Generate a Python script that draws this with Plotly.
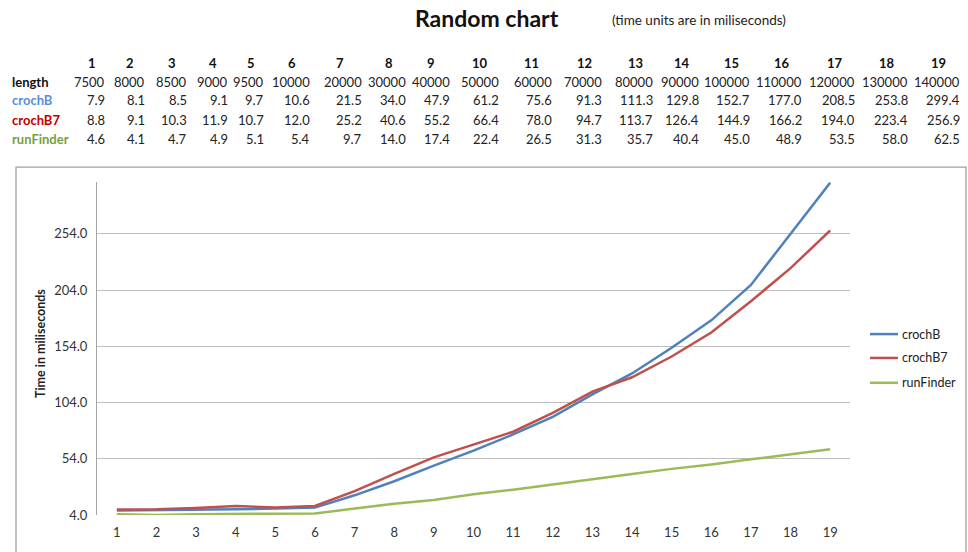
import plotly.graph_objects as go

categories = list(range(1, 20))
lengths = [7500, 8000, 8500, 9000, 9500, 10000, 20000, 30000, 40000, 50000,
           60000, 70000, 80000, 90000, 100000, 110000, 120000, 130000, 140000]
crochB = [7.9, 8.1, 8.5, 9.1, 9.7, 10.6, 21.5, 34.0, 47.9, 61.2,
          75.6, 91.3, 111.3, 129.8, 152.7, 177.0, 208.5, 253.8, 299.4]
crochB7 = [8.8, 9.1, 10.3, 11.9, 10.7, 12.0, 25.2, 40.6, 55.2, 66.4,
           78.0, 94.7, 113.7, 126.4, 144.9, 166.2, 194.0, 223.4, 256.9]
runFinder = [4.6, 4.1, 4.7, 4.9, 5.1, 5.4, 9.7, 14.0, 17.4, 22.4,
             26.5, 31.3, 35.7, 40.4, 45.0, 48.9, 53.5, 58.0, 62.5]
y_ticks = [4.0, 54.0, 104.0, 154.0, 204.0, 254.0]

W, H = 968, 552
L, R, T, B = 97, 850, 182, 517
FONT = "Lato"

def px(x):
    return (x - L) / (R - L)

def py(y):
    return (B - y) / (B - T)

fig = go.Figure()
series = [("crochB", crochB, "#4F81BD"), ("crochB7", crochB7, "#C0504D"),
          ("runFinder", runFinder, "#9BBB59")]
for name, vals, col in series:
    fig.add_trace(go.Scatter(x=categories, y=vals, mode="lines", name=name,
                             line=dict(color=col, width=2.5), showlegend=False))

ann = []
shapes = [dict(type="rect", xref="paper", yref="paper", x0=px(16), x1=px(966),
               y0=py(600), y1=py(167), line=dict(color="#A0A0A0", width=1.3),
               fillcolor="rgba(0,0,0,0)", layer="below")]

# title
ann.append(dict(text="<b>Random chart</b>", x=px(487), y=py(17), xref="paper", yref="paper",
                showarrow=False, xanchor="center", yanchor="middle",
                font=dict(family=FONT, size=23, color="#111")))
ann.append(dict(text="(time units are in miliseconds)", x=px(610), y=py(19), xref="paper",
                yref="paper", showarrow=False, xanchor="left", yanchor="middle",
                font=dict(family=FONT, size=13.5, color="#222")))

right_edges = [107, 147, 189, 230, 266, 312, 364, 408, 452, 501,
               554, 604, 655, 701, 752, 804, 857, 910, 962]
head_centers = [92, 130, 172, 213, 251, 292, 340, 389, 431, 480,
                531, 584, 635, 682, 731, 782, 835, 887, 939]
row_y = [81, 100, 120, 139]
rows = [("length", lengths, "#111", False), ("crochB", crochB, "#5B8ED6", True),
        ("crochB7", crochB7, "#C00000", True), ("runFinder", runFinder, "#77A03C", True)]

for i, c in enumerate(categories):
    ann.append(dict(text="<b>%d</b>" % c, x=px(head_centers[i]), y=py(62), xref="paper",
                    yref="paper", showarrow=False, xanchor="center", yanchor="middle",
                    font=dict(family=FONT, size=13, color="#111")))
for (label, vals, col, is_float), yy in zip(rows, row_y):
    ann.append(dict(text="<b>%s</b>" % label, x=px(10), y=py(yy), xref="paper", yref="paper",
                    showarrow=False, xanchor="left", yanchor="middle",
                    font=dict(family=FONT, size=13, color=col)))
    for i, v in enumerate(vals):
        t = ("%.1f" % v) if is_float else ("%d" % v)
        ann.append(dict(text=t, x=px(right_edges[i]), y=py(yy), xref="paper", yref="paper",
                        showarrow=False, xanchor="right", yanchor="middle",
                        font=dict(family=FONT, size=13, color="#222")))

ann.append(dict(text="<b>Time in miliseconds</b>", x=px(40), y=py(345), xref="paper",
                yref="paper", showarrow=False, textangle=-90, xanchor="center",
                yanchor="middle", font=dict(family=FONT, size=12.5, color="#222")))

# legend (drawn in the right margin)
legend_y = [335, 359, 384]
for (name, vals, col), ly in zip(series, legend_y):
    shapes.append(dict(type="line", xref="paper", yref="paper", x0=px(870), x1=px(898),
                       y0=py(ly), y1=py(ly), line=dict(color=col, width=2.5)))
    ann.append(dict(text=name, x=px(900), y=py(ly), xref="paper", yref="paper",
                    showarrow=False, xanchor="left", yanchor="middle",
                    font=dict(family=FONT, size=12.5, color="#222")))

fig.update_layout(
    width=W, height=H,
    margin=dict(l=L, r=W - R, t=T, b=H - B, pad=0),
    paper_bgcolor="white", plot_bgcolor="white",
    showlegend=False,
    xaxis=dict(range=[0.5, 19.5], tickmode="array", tickvals=categories,
               ticktext=[str(c) for c in categories], showgrid=False, zeroline=False,
               showline=False, ticks="", tickfont=dict(family=FONT, size=13, color="#333"),
               ticklabelstandoff=8),
    yaxis=dict(range=[4, 300], tickmode="array", tickvals=y_ticks,
               ticktext=["%.1f" % v for v in y_ticks], showgrid=True,
               gridcolor="#BEBEBE", gridwidth=1, zeroline=False,
               showline=True, linecolor="#A6A6A6", linewidth=1, ticks="",
               tickfont=dict(family=FONT, size=13, color="#333"), ticklabelstandoff=6),
    annotations=ann, shapes=shapes,
)

fig.write_html("out.html")
